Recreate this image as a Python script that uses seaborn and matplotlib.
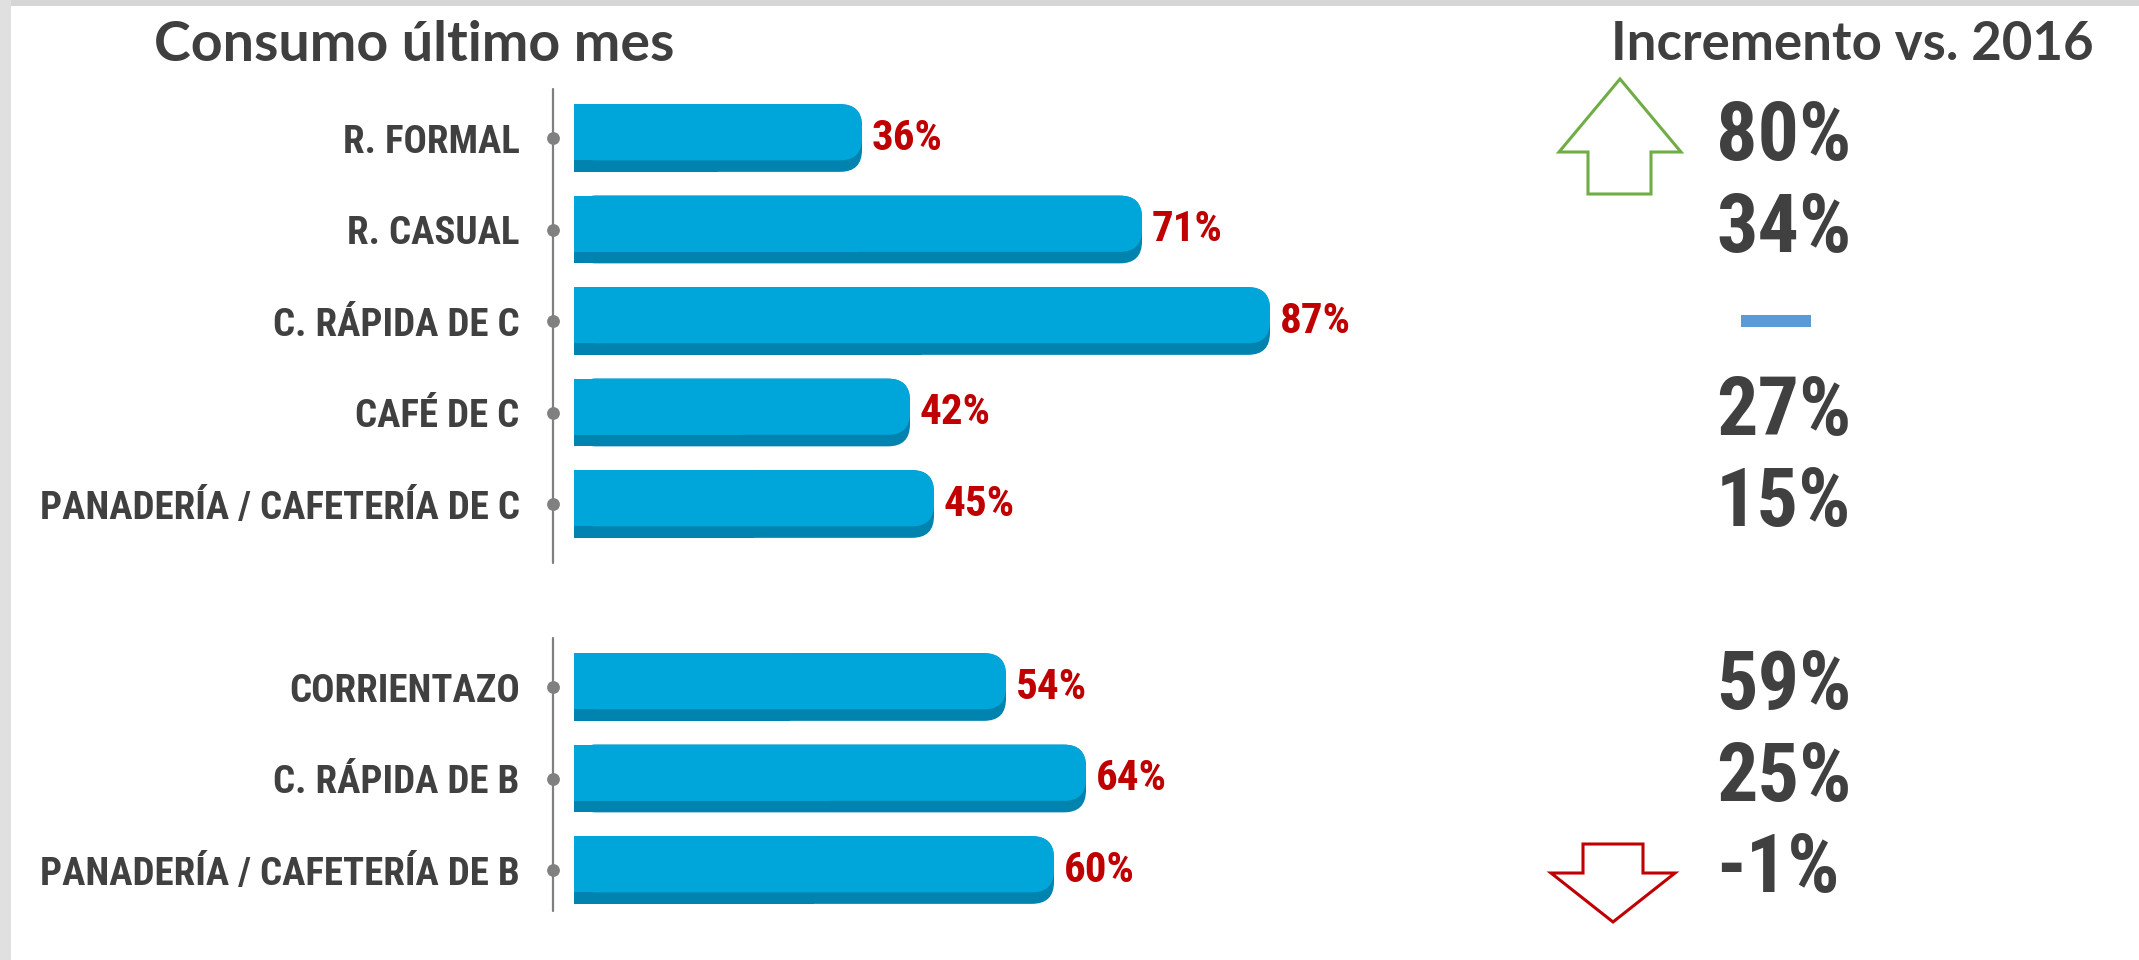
import matplotlib
matplotlib.use("Agg")
import matplotlib.pyplot as plt
import seaborn as sns
import pandas as pd
from matplotlib.patches import FancyBboxPatch, Rectangle, Polygon

# ---------------- data ----------------
categorias = ["R. FORMAL", "R. CASUAL", "C. RÁPIDA DE C", "CAFÉ DE C",
              "PANADERÍA / CAFETERÍA DE C",
              "CORRIENTAZO", "C. RÁPIDA DE B", "PANADERÍA / CAFETERÍA DE B"]
consumo = [36, 71, 87, 42, 45, 54, 64, 60]          # Consumo último mes (%)
incremento = [80, 34, None, 27, 15, 59, 25, -1]    # Incremento vs. 2016 (%)
grupo = ["C", "C", "C", "C", "C", "B", "B", "B"]

titulo_izq = "Consumo último mes"
titulo_der = "Incremento vs. 2016"

# ---------------- style ----------------
LIGHT = "#00A6DA"
DARK = "#0083AE"
RED = "#C00000"
GRAY_TXT = "#404040"
AXIS_GRAY = "#808080"

W, H = 2139, 960
sns.set_theme(style="white")
COND = ['Noto Sans ExtraCondensed', 'Roboto Condensed', 'Noto Sans Condensed',
        'DejaVu Sans Condensed', 'Liberation Sans Narrow', 'DejaVu Sans']
plt.rcParams['font.family'] = COND

df = pd.DataFrame({"categoria": categorias, "consumo": consumo, "grupo": grupo})
orden = [c for c, g in zip(categorias, grupo) if g == "C"] + [" "] + \
        [c for c, g in zip(categorias, grupo) if g == "B"]
fila = {c: i for i, c in enumerate(orden)}

fig = plt.figure(figsize=(W / 100, H / 100), dpi=100)
fig.patch.set_facecolor("white")

top_px, bot_px = 55.65, 952.35
ax = fig.add_axes([553 / W, 1 - bot_px / H, 747 / W, (bot_px - top_px) / H])
sns.barplot(data=df, x="consumo", y="categoria", order=orden, orient="h",
            color=DARK, width=0.74, saturation=1, ax=ax)

XMIN, XMAX = -2.625, 90.75
YLIM = (8.9, -0.9)
ax.set_xlim(XMIN, XMAX)
ax.set_ylim(*YLIM)

# rounded, two-tone bars built from the seaborn bar geometry
px_x = 747 / (XMAX - XMIN)
px_y = (bot_px - top_px) / (YLIM[0] - YLIM[1])
aspect = px_x / px_y
r = 22 / px_x
for p in list(ax.patches):
    x, y, w, h = p.get_x(), p.get_y(), p.get_width(), p.get_height()
    if w <= 0:
        continue
    p.set_visible(False)
    for (yy, hh, col, z) in [(y, h, DARK, 2), (y, h * 0.83, LIGHT, 3)]:
        ax.add_patch(FancyBboxPatch((x, yy), w, hh,
                                    boxstyle=f"round,pad=0,rounding_size={r}",
                                    mutation_aspect=aspect, facecolor=col,
                                    edgecolor="none", zorder=z))
        ax.add_patch(Rectangle((x, yy), w / 2, hh, facecolor=col,
                               edgecolor="none", zorder=z))

# value labels
for c, v in zip(categorias, consumo):
    ax.text(v + 1.2, fila[c], f"{v}%", color=RED, fontsize=31,
            fontweight="bold", va="center", ha="left", zorder=6)

# axis lines with dots
ax.plot([XMIN, XMIN], [-0.535, 4.64], color=AXIS_GRAY, lw=1.6, clip_on=False)
ax.plot([XMIN, XMIN], [5.46, 8.45], color=AXIS_GRAY, lw=1.6, clip_on=False)
ax.scatter([XMIN] * len(categorias), [fila[c] for c in categorias], s=85,
           color=AXIS_GRAY, zorder=5, clip_on=False, linewidths=0)

for s in ax.spines.values():
    s.set_visible(False)
ax.set_xlabel("")
ax.set_ylabel("")
ax.set_xticks([])
ax.tick_params(axis="y", length=0, pad=24, labelsize=28, labelcolor=GRAY_TXT)
for t in ax.get_yticklabels():
    t.set_fontweight("bold")

# ---------------- right panel ----------------
ax2 = fig.add_axes([1540 / W, 1 - bot_px / H, (W - 1540) / W, (bot_px - top_px) / H])
ax2.set_xlim(1540, W)
ax2.set_ylim(*YLIM)
ax2.axis("off")
for c, v in zip(categorias, incremento):
    if v is None:
        ax2.add_patch(Rectangle((1741, fila[c] - 0.065), 70, 0.13,
                                facecolor="#5B9BD5", edgecolor="none"))
    else:
        ax2.text(1716, fila[c], f"{v}%", fontsize=59, fontweight="bold",
                 color=GRAY_TXT, ha="left", va="center")

# arrows (up: green, down: red)
up = [(1620, -0.645), (1681, 0.153), (1651, 0.153), (1651, 0.612),
      (1588, 0.612), (1588, 0.153), (1559, 0.153)]
down = [(1583, 7.716), (1643, 7.716), (1643, 8.033), (1675, 8.033),
        (1613, 8.568), (1551, 8.033), (1583, 8.033)]
ax2.add_patch(Polygon(up, closed=True, fill=False, edgecolor="#70AD47", lw=2.2,
                      clip_on=False))
ax2.add_patch(Polygon(down, closed=True, fill=False, edgecolor=RED, lw=2.2,
                      clip_on=False))

# ---------------- titles ----------------
fig.text(154 / W, 1 - 45 / H, titulo_izq, fontsize=40, fontweight="bold",
         family=["Lato", "DejaVu Sans"], color="#3F3F3F", ha="left", va="center")
fig.text(2094 / W, 1 - 45 / H, titulo_der, fontsize=38, fontweight="bold",
         family=["Lato", "DejaVu Sans"], color="#3F3F3F", ha="right", va="center")

# light frame edges
fig.patches.append(Rectangle((0, 1 - 6 / H), 1, 6 / H, transform=fig.transFigure,
                             facecolor="#d6d6d6", edgecolor="none"))
fig.patches.append(Rectangle((0, 0), 11 / W, 1, transform=fig.transFigure,
                             facecolor="#e0e0e0", edgecolor="none"))

fig.savefig("out.png", dpi=100)
